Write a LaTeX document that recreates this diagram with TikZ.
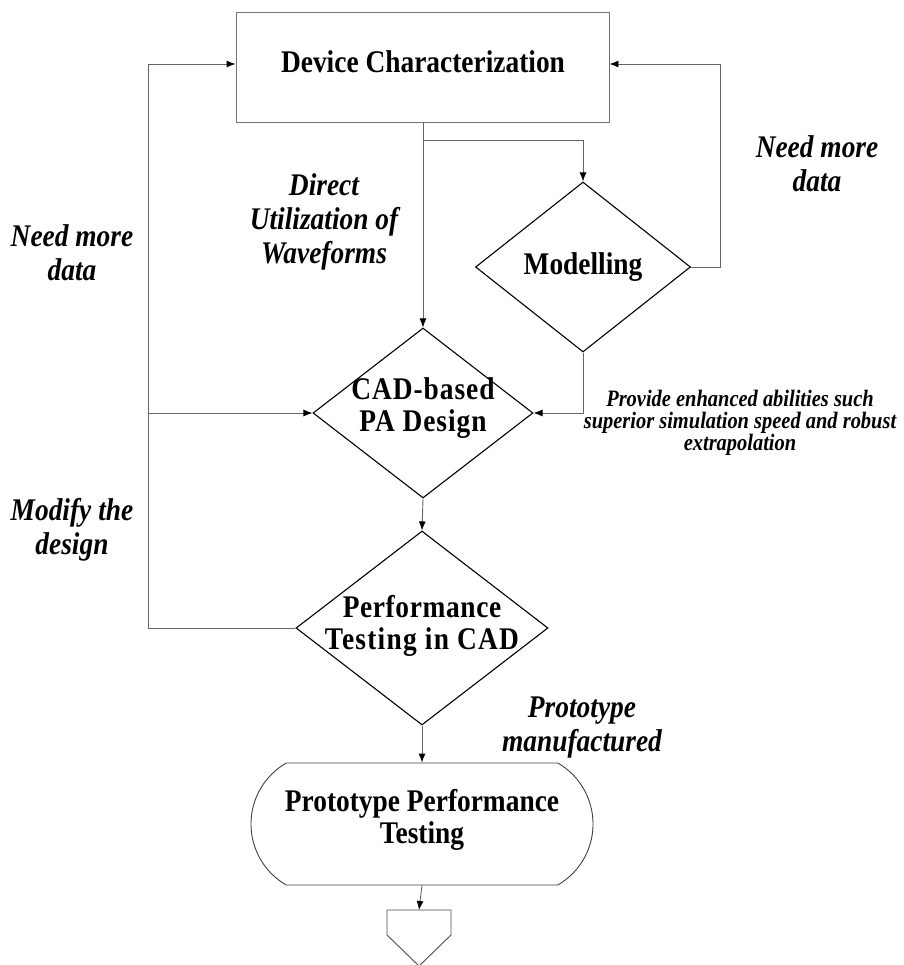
\documentclass[tikz,border=0pt]{standalone}
\usepackage{fontspec}
\setmainfont{Liberation Serif}[FakeStretch=0.87]
\usetikzlibrary{shapes.geometric,shapes.misc,arrows.meta}
\begin{document}
\begin{tikzpicture}[x=1pt,y=-1pt,
  conn/.style={draw=black!60, line width=0.9pt},
  arr/.style={conn, -{Latex[length=9pt,width=7pt,color=black]}},
  dia/.style={diamond, draw=black, line width=1.1pt, inner sep=0pt},
  ntxt/.style={font=\fontsize{31.5}{32}\selectfont\bfseries, align=center, inner sep=0pt},
  ltxt/.style={font=\fontsize{31.5}{34}\selectfont\bfseries\itshape, align=center, inner sep=0pt},
  stxt/.style={font=\fontsize{23.5}{22}\selectfont\bfseries\itshape, align=center, inner sep=0pt}
]
\useasboundingbox (0,0) rectangle (903,965);

% shapes
\node[draw=black!55, line width=0.9pt, minimum width=373pt, minimum height=110pt, inner sep=0pt] (dc) at (422.5,67) {};
\node[ntxt] (dct) at (423,62) {Device Characterization};

\node[dia, minimum width=215pt, minimum height=170pt] (mod) at (583,267) {};
\node[ntxt] (modt) at (583,267) {Modelling};

\node[dia, minimum width=220pt, minimum height=170pt] (cad) at (423,413) {};
\node[ntxt] (cadt) at (423,408) {\addfontfeature{LetterSpace=3}CAD-based\\\addfontfeature{LetterSpace=3}PA Design};

\node[dia, minimum width=252pt, minimum height=194pt] (perf) at (422,628) {};
\node[ntxt] (perft) at (422,626) {\addfontfeature{LetterSpace=2}Performance\\\addfontfeature{LetterSpace=4}Testing in CAD};

\node[draw=black!75, line width=0.9pt, rounded rectangle, rounded rectangle arc length=120,
      minimum width=342pt, minimum height=122pt, inner sep=0pt] (proto) at (422,824) {};
\node[ntxt] (protot) at (422,820) {Prototype Performance\\Testing};

% off-page connector
\coordinate (off) at (419,910);
\draw[draw=black!70, line width=0.9pt] (387,910) -- (451,910) -- (451,935) -- (419,966) -- (387,935) -- cycle;

% helper coordinates
\coordinate (L1) at (148,64);
\coordinate (R1) at (720,64);
\coordinate (B) at (423,140);

% connectors
\draw[arr] (perf.west) -| (L1) -- (L1 -| dc.west);
\draw[arr] (L1 |- cad.west) -- (cad.west);
\draw[arr] (mod.east) -| (R1) -- (R1 -| dc.east);
\draw[arr] (cad.north |- dc.south) -- (cad.north);
\draw[arr] (B) -| (mod.north);
\draw[arr] (mod.south) |- (cad.east);
\draw[arr] (cad.south) -- (perf.north);
\draw[arr] (perf.south) -- (proto.north);
\draw[arr] (proto.south) -- (off);

% labels
\node[ltxt] (nm1) at (72,253) {Need more\\data};
\node[ltxt] (nm2) at (817,164) {Need more\\data};
\node[ltxt] (duw) at (324,222) {Direct\\Utilization of\\Waveforms};
\node[ltxt] (mtd) at (72,530) {Modify the\\design};
\node[ltxt] (pm) at (582,728) {Prototype\\manufactured};
\node[stxt] (pes) at (740,423) {Provide enhanced abilities such\\superior simulation speed and robust\\extrapolation};
\end{tikzpicture}
\end{document}
